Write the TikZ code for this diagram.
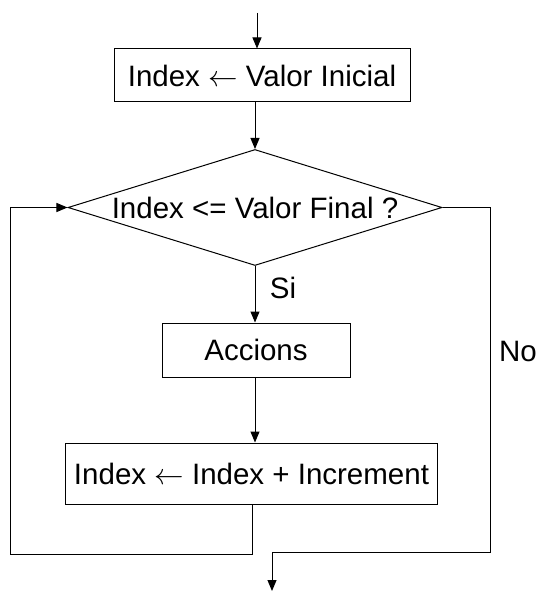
\RequirePackage{fix-cm}
\documentclass[tikz,border=0pt]{standalone}
\usepackage{fontspec}
\setmainfont{Liberation Sans}
\usetikzlibrary{shapes.geometric,arrows.meta}
\begin{document}
\begin{tikzpicture}[x=1bp,y=-1bp,
  every node/.style={font=\fontsize{29.5bp}{34bp}\selectfont},
  procbox/.style={draw,line width=1bp,inner sep=0pt},
  flow/.style={line width=1bp,-{Triangle[length=11bp,width=9bp]}},
  plain/.style={line width=1bp}]
\useasboundingbox (0,0) rectangle (537,592);
\node[procbox,minimum width=296bp,minimum height=53bp] (init) at (262,75.5) {Index $\leftarrow$ Valor Inicial};
\node[draw,diamond,line width=1bp,inner sep=0pt,minimum width=374bp,minimum height=116bp] (cond) at (255,207.5) {};
\node (condtext) at (255,207.5) {Index <= Valor Final ?};
\node[procbox,minimum width=188bp,minimum height=54bp] (acc) at (256,350) {Accions};
\node[procbox,minimum width=371bp,minimum height=61bp] (inc) at (251.5,473.5) {Index $\leftarrow$ Index + Increment};
\node (si) at (283,288) {Si};
\node (no) at (518,351) {No};
\coordinate (start) at (257,13);
\coordinate (loopA) at (252,554);
\coordinate (loopB) at (10,554);
\coordinate (loopC) at (10,207.5);
\coordinate (exitA) at (490,207.5);
\coordinate (exitB) at (490,552);
\coordinate (exitC) at (272,552);
\coordinate (endp) at (272,591);
\draw[flow] (start) -- (init.north -| start);
\draw[flow] (init.south -| cond.north) -- (cond.north);
\draw[flow] (cond.south) -- (acc.north -| cond.south);
\draw[flow] (acc.south -| cond.south) -- (inc.north -| cond.south);
\draw[flow] (inc.south -| loopA) -- (loopA) -- (loopB) -- (loopC) -- (cond.west);
\draw[flow] (cond.east) -- (exitA) -- (exitB) -- (exitC) -- (endp);
\end{tikzpicture}
\end{document}
